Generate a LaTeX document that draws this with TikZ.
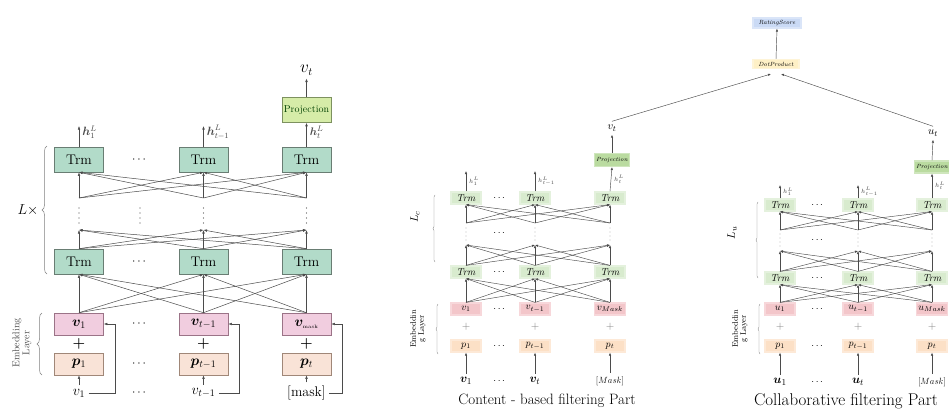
\documentclass[tikz,border=0pt]{standalone}
\usepackage{amsmath,bm}
\usetikzlibrary{arrows.meta,decorations.pathreplacing}

\definecolor{trmfill}{RGB}{178,219,201}
\definecolor{trmline}{RGB}{105,125,115}
\definecolor{projfill}{RGB}{214,236,168}
\definecolor{projline}{RGB}{125,145,95}
\definecolor{vfill}{RGB}{241,205,223}
\definecolor{vline}{RGB}{155,115,135}
\definecolor{pfill}{RGB}{249,227,215}
\definecolor{pline}{RGB}{160,135,120}
\definecolor{softgreen}{RGB}{216,235,206}
\definecolor{softproj}{RGB}{186,219,160}
\definecolor{softred}{RGB}{243,198,202}
\definecolor{softorange}{RGB}{252,224,198}
\definecolor{softyellow}{RGB}{254,240,198}
\definecolor{softblue}{RGB}{202,218,245}
\definecolor{linkgray}{RGB}{75,75,75}

\tikzset{
  fs/.style={font=\fontsize{#1}{#1}\selectfont},
  box/.style={draw=#1, line width=0.6pt, minimum width=49pt, inner sep=0pt},
  trm/.style={box=trmline, fill=trmfill, minimum height=25pt, fs=14},
  proj/.style={box=projline, fill=projfill, minimum height=25pt, fs=10, text=green!25!black},
  vbox/.style={box=vline, fill=vfill, minimum height=22pt, fs=14},
  pbox/.style={box=pline, fill=pfill, minimum height=22pt, fs=14},
  soft/.style={fill=#1, draw=#1!70!white, line width=1.2pt, minimum width=30pt, minimum height=12pt, inner sep=2pt},
  link/.style={linkgray, line width=0.5pt, -{Latex[length=3.5pt,width=2.6pt]}},
  slink/.style={linkgray, line width=0.45pt, -{Latex[length=3pt,width=2.4pt]}},
  dotcol/.style={fill=linkgray},
  hlab/.style={right, inner sep=1pt, xshift=2pt},
}

\begin{document}
\begin{tikzpicture}[x=1pt,y=-1pt]
\clip (0,0) rectangle (949,412);
\fill[white] (0,0) rectangle (949,412);

% ---------- left: stacked transformer ----------
\foreach \i/\x/\v/\p/\inp in {1/79/{\bm{v}_1}/{\bm{p}_1}/{$v_1$},
                            2/203.5/{\bm{v}_{t-1}}/{\bm{p}_{t-1}}/{$v_{t-1}$},
                            3/306.5/{\bm{v}_{\text{\tiny mask}}}/{\bm{p}_t}/{[mask]}} {
  \node[trm] (lt\i) at (\x,159.5) {Trm};
  \node[trm] (lb\i) at (\x,261.5) {Trm};
  \coordinate (lj\i) at (\x,198);
  \coordinate (lk\i) at (\x,230);
  \node[vbox] (lv\i) at (\x,324) {$\v$};
  \node[fs=14] at (\x,344) {$\bm{+}$};
  \node[pbox] (lp\i) at (\x,364) {$\p$};
  \node[fs=14] (li\i) at (\x,393) {\inp};
  \coordinate (lr\i) at (\x+36,324);
  \foreach \d in {208,213,218,223} \fill[dotcol] (\x,\d) circle (0.6pt);
  \draw[link] (li\i.north) -- (lp\i.south);
  \draw[link] (li\i.east) -| (lr\i) -- (lv\i.east);
}
\foreach \d in {208,213,218,223} \fill[dotcol] (140,\d) circle (0.6pt);
\foreach \y in {159.5,261.5,324,364,393} \node[fs=12] at (140,\y) {$\cdots$};

% connections between layers
\foreach \i in {1,2,3} \foreach \j in {1,2,3} {
  \draw[link] (lv\i.north) -- (lb\j.south);
  \draw[link] (lb\i.north) -- (lk\j);
  \draw[link] (lj\i) -- (lt\j.south);
}

% outputs
\coordinate (lh1) at (79,126);
\coordinate (lh2) at (203.5,126);
\draw[link] (lt1.north) -- (lh1) node[hlab,pos=0.7,fs=12] {$\bm{h}_1^L$};
\draw[link] (lt2.north) -- (lh2) node[hlab,pos=0.7,fs=12] {$\bm{h}_{t-1}^L$};
\node[proj] (lproj) at (306.5,110) {Projection};
\draw[link] (lt3.north) -- (lproj.south) node[hlab,pos=0.6,fs=11] {$\bm{h}_t^L$};
\node[fs=16] (lout) at (306.5,70) {$v_t$};
\draw[link] (lproj.north) -- (lout.south);

% braces
\draw[decorate,decoration={brace,amplitude=5pt},line width=0.5pt,gray] (47,274) -- (47,146)
  node[midway,left=5pt,fs=14,text=black] {$L\times$};
\draw[decorate,decoration={brace,amplitude=5pt},line width=0.5pt,gray] (42,375) -- (42,313);
\node[rotate=90,fs=10,align=center,text=gray!60!black] at (22,343) {Embedding\\Layer};

% ---------- content-based filtering part ----------
\foreach \i/\x/\v/\p/\inp in {1/466/{v_1}/{p_1}/{$\bm{v}_1$},
                            2/535/{v_{t-1}}/{p_{t-1}}/{$\bm{v}_t$},
                            3/610/{v_{Mask}}/{p_t}/{\scalebox{0.75}{$[Mask]$}}} {
  \node[soft=softgreen,fs=10] (ct\i) at (\x,198) {\textit{Trm}};
  \node[soft=softgreen,fs=10] (cb\i) at (\x,272) {\textit{Trm}};
  \coordinate (cj\i) at (\x,223);
  \coordinate (ck\i) at (\x,245);
  \node[soft=softred,fs=10] (cv\i) at (\x,309) {$\v$};
  \node[fs=11,text=gray] at (\x,327) {$+$};
  \node[soft=softorange,fs=10] (cp\i) at (\x,346) {$\p$};
  \node[fs=13] (ci\i) at (\x,381) {\inp};
  \foreach \d in {228,232,236,240} \fill[dotcol] (\x,\d) circle (0.4pt);
  \draw[slink] (ci\i.north) -- (cp\i.south);
}
\foreach \y in {198,233,272,309,346,381} \node[fs=10] at (500,\y) {$\cdots$};
\foreach \i in {1,2,3} \foreach \j in {1,2,3} {
  \draw[slink] (cv\i.north) -- (cb\j.south);
  \draw[slink] (cb\i.north) -- (ck\j);
  \draw[slink] (cj\i) -- (ct\j.south);
}
\coordinate (ch1) at (466,171);
\coordinate (ch2) at (535,171);
\draw[slink] (ct1.north) -- (ch1) node[hlab,pos=0.5,fs=6] {$h_1^L$};
\draw[slink] (ct2.north) -- (ch2) node[hlab,pos=0.5,fs=6] {$h_{t-1}^L$};
\node[soft=softproj,fs=6,minimum height=13pt,minimum width=34pt] (cproj) at (612,160) {\textit{Projection}};
\draw[slink] (ct3.north) -- (cproj.south) node[hlab,pos=0.5,fs=6] {$h_t^L$};
\node[fs=11] (cout) at (612,128) {$v_t$};
\draw[slink] (cproj.north) -- (cout.south);
\draw[decorate,decoration={brace,amplitude=2pt},line width=0.4pt,gray] (435,262) -- (435,195);
\node[rotate=90,fs=11] at (415,217) {$L_c$};
\draw[decorate,decoration={brace,amplitude=2pt},line width=0.4pt,gray] (438,354) -- (438,304);
\node[rotate=90,fs=8,align=center] at (418,329) {Embeddin\\g Layer};
\node[fs=15] at (547,401) {Content - based filtering Part};

% ---------- collaborative filtering part ----------
\foreach \i/\x/\v/\p/\inp in {1/780/{u_1}/{p_1}/{$\bm{u}_1$},
                            2/858/{u_{t-1}}/{p_{t-1}}/{$\bm{u}_t$},
                            3/932/{u_{Mask}}/{p_t}/{\scalebox{0.75}{$[Mask]$}}} {
  \node[soft=softgreen,fs=10] (ut\i) at (\x,205) {\textit{Trm}};
  \node[soft=softgreen,fs=10] (ub\i) at (\x,278) {\textit{Trm}};
  \coordinate (uj\i) at (\x,230);
  \coordinate (uk\i) at (\x,251);
  \node[soft=softred,fs=10] (uv\i) at (\x,309) {$\v$};
  \node[fs=11,text=gray] at (\x,327) {$+$};
  \node[soft=softorange,fs=10] (up\i) at (\x,346) {$\p$};
  \node[fs=13] (ui\i) at (\x,382) {\inp};
  \foreach \d in {234,238,242,246} \fill[dotcol] (\x,\d) circle (0.4pt);
  \draw[slink] (ui\i.north) -- (up\i.south);
}
\foreach \y in {205,240,278,309,346,382} \node[fs=10] at (818,\y) {$\cdots$};
\foreach \i in {1,2,3} \foreach \j in {1,2,3} {
  \draw[slink] (uv\i.north) -- (ub\j.south);
  \draw[slink] (ub\i.north) -- (uk\j);
  \draw[slink] (uj\i) -- (ut\j.south);
}
\coordinate (uh1) at (780,185);
\coordinate (uh2) at (858,185);
\draw[slink] (ut1.north) -- (uh1) node[hlab,pos=0.5,fs=6] {$h_1^L$};
\draw[slink] (ut2.north) -- (uh2) node[hlab,pos=0.5,fs=6] {$h_{t-1}^L$};
\node[soft=softproj,fs=6,minimum height=12pt,minimum width=34pt] (uproj) at (932,167) {\textit{Projection}};
\draw[slink] (ut3.north) -- (uproj.south) node[hlab,pos=0.5,fs=6] {$h_t^L$};
\node[fs=11] (uout) at (933,133) {$u_t$};
\draw[slink] (uproj.north) -- (uout.south);
\draw[decorate,decoration={brace,amplitude=2pt},line width=0.4pt,gray] (758,278) -- (758,202);
\node[rotate=90,fs=11] at (732,233) {$L_u$};
\draw[decorate,decoration={brace,amplitude=2pt},line width=0.4pt,gray] (760,354) -- (760,304);
\node[rotate=90,fs=8,align=center] at (740,329) {Embeddin\\g Layer};
\node[fs=17] at (846,401) {Collaborative filtering Part};

% ---------- rating head ----------
\node[soft=softyellow,fs=6,minimum width=46pt,minimum height=9pt] (dot) at (776,64) {\textit{DotProduct}};
\node[soft=softblue,fs=6,minimum width=48pt,minimum height=10pt] (score) at (777,23) {\textit{RatingScore}};
\coordinate (dotl) at (771,74);
\coordinate (dotr) at (781,74);
\draw[slink] (cout.north) -- (dotl);
\draw[slink] (uout.north) -- (dotr);
\draw[slink] (dot.north) -- (score.south);
\end{tikzpicture}
\end{document}
